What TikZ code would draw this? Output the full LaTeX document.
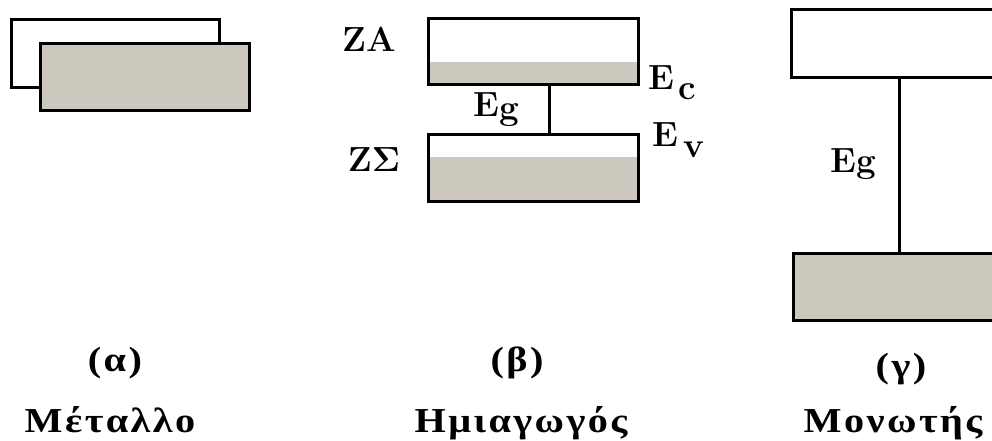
\documentclass[tikz,border=0pt]{standalone}
\usepackage[no-math]{fontspec}
\newfontfamily\grfont[LetterSpace=7,FakeStretch=1.15]{Liberation Serif}
\definecolor{bandgray}{RGB}{204,200,190}
\newcommand{\zlabel}[1]{\scalebox{1.4}{\fontsize{25}{30}\selectfont$\mathbf{#1}$}}
\tikzset{
  band/.style={draw=black, line width=3pt, inner sep=0pt, outer sep=0pt},
  lbl/.style={inner sep=0pt, font=\fontsize{35}{42}\selectfont\bfseries},
  grlbl/.style={inner sep=0pt, anchor=base, font=\fontsize{35}{42}\selectfont\grfont\bfseries},
  conn/.style={line width=3pt}
}
\begin{document}
\begin{tikzpicture}[x=1pt,y=-1pt]
\clip (0,0) rectangle (992,441);
\fill[white] (0,0) rectangle (992,441);
% (a) metal
\node[band, fill=white, minimum width=208pt, minimum height=68pt] (mcb) at (115,54) {};
\node[band, fill=bandgray, minimum width=209pt, minimum height=67pt] (mvb) at (144.5,77.5) {};
% (b) semiconductor
\fill[bandgray] (428,62) rectangle (638,85);
\node[band, minimum width=210pt, minimum height=66pt] (scb) at (533,52) {};
\fill[bandgray] (428,157) rectangle (638,201);
\node[band, minimum width=210pt, minimum height=67pt] (svb) at (533,167.5) {};
\coordinate (sgap) at (549,0);
\draw[conn] (scb.south -| sgap) -- (svb.north -| sgap);
\node[lbl] (za) at (369,40) {\zlabel{ZA}};
\node[lbl] (zs) at (374,160) {\zlabel{Z\Sigma}};
\node[lbl, anchor=base west] (egb) at (473,117) {E\raisebox{-2pt}{g}};
\node[lbl, anchor=base west] (ec) at (648,90) {E\kern4pt\raisebox{-10pt}{c}};
\node[lbl, anchor=base west] (ev) at (652,146) {E\kern5pt\raisebox{-11pt}{v}};
% (c) insulator
\node[band, fill=white, minimum width=219pt, minimum height=68pt] (icb) at (900.5,44) {};
\node[band, fill=bandgray, minimum width=217pt, minimum height=67pt] (ivb) at (901.5,286.5) {};
\coordinate (igap) at (899,0);
\draw[conn] (icb.south -| igap) -- (ivb.north -| igap);
\node[lbl, anchor=base west] (egi) at (830,172) {Eg};
% captions
\node[grlbl] (ca) at (115,371) {(α)};
\node[grlbl] (cb) at (517,371) {(β)};
\node[grlbl] (cc) at (901,377) {(γ)};
\node[grlbl] (na) at (110,432) {Μέταλλο};
\node[grlbl] (nb) at (521,432) {Ημιαγωγός};
\node[grlbl] (nc) at (893,432) {Μονωτής};
\end{tikzpicture}
\end{document}
